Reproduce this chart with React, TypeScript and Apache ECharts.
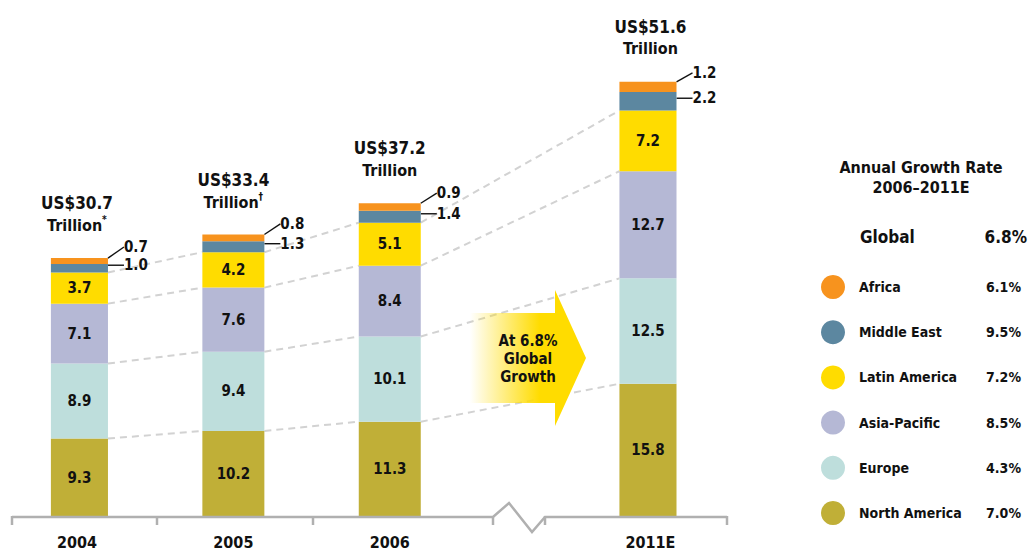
import React, { useEffect, useRef } from "react";
import * as echarts from "echarts";

// ---------- data ----------
const years = ["2004", "2005", "2006", "2011E"];
const yearSlots = [0, 3, 6, 11]; // slot positions on a 12-slot category axis (break between 2006 and 2011E)
const slotCount = 12;

const regionNames = ["North America", "Europe", "Asia-Pacific", "Latin America", "Middle East", "Africa"];
const northAmerica = [9.3, 10.2, 11.3, 15.8];
const europe = [8.9, 9.4, 10.1, 12.5];
const asiaPacific = [7.1, 7.6, 8.4, 12.7];
const latinAmerica = [3.7, 4.2, 5.1, 7.2];
const middleEast = [1.0, 1.3, 1.4, 2.2];
const africa = [0.7, 0.8, 0.9, 1.2];
const regionValues = [northAmerica, europe, asiaPacific, latinAmerica, middleEast, africa];
const regionColors = ["#C0AF37", "#BEDEDC", "#B5B8D5", "#FFDC00", "#5C87A0", "#F7931E"];

const totals = [30.7, 33.4, 37.2, 51.6];
const totalMarks = ["*", "\u2020", "", ""];

const legendOrder = ["Africa", "Middle East", "Latin America", "Asia-Pacific", "Europe", "North America"];
const legendRates = ["6.1%", "9.5%", "7.2%", "8.5%", "4.3%", "7.0%"];
const globalRate = "6.8%";

// ---------- layout ----------
const FONT = "'Liberation Sans Narrow', 'DejaVu Sans Condensed', Arial, sans-serif";
const GRID_LEFT = 50.9;
const GRID_WIDTH = 625.6;
const GRID_TOP = 11;
const GRID_BOTTOM = 33;
const BAR_WIDTH = 62;
const INK = "#111111";

function slotArray(values: (number | string)[]) {
  const arr: (number | string)[] = [];
  for (let i = 0; i < slotCount; i++) {
    const k = yearSlots.indexOf(i);
    arr.push(k >= 0 ? values[k] : "-");
  }
  return arr;
}

export default function App() {
  const ref = useRef<HTMLDivElement>(null);

  useEffect(() => {
    document.body.style.margin = "0";
    if (!ref.current) return;
    const chart = echarts.init(ref.current, undefined, { renderer: "svg" });

    const categories = Array.from({ length: slotCount }, (_, i) => String(i));
    const slotW = GRID_WIDTH / slotCount;
    const halfBar = BAR_WIDTH / 2 / slotW;

    const barSeries: any[] = regionNames.map((name, r) => {
      const small = r >= 4;
      return {
        name,
        type: "bar",
        stack: "total",
        barWidth: BAR_WIDTH,
        xAxisIndex: 0,
        data: slotArray(regionValues[r]),
        itemStyle: { color: regionColors[r] },
        silent: true,
        z: 3,
        label: small
          ? {
              show: true,
              position: "right",
              distance: 16,
              fontFamily: FONT,
              fontWeight: "bold",
              fontSize: 15,
              lineHeight: 14,
              color: INK,
              formatter: (p: any) => Number(p.value).toFixed(1),
            }
          : {
              show: true,
              position: "inside",
              fontFamily: FONT,
              fontWeight: "bold",
              fontSize: 15,
              color: INK,
              formatter: (p: any) => Number(p.value).toFixed(1),
            },
        labelLayout: small ? { dy: r === 5 ? -14 : -3 } : undefined,
        labelLine: small
          ? { show: true, lineStyle: { color: INK, width: 1.4 } }
          : undefined,
      };
    });

    // cumulative tops for the dashed connectors
    const cum: number[][] = [];
    for (let r = 0; r < 4; r++) {
      cum.push(
        years.map((_, y) => {
          let s = 0;
          for (let k = 0; k <= r; k++) s += regionValues[k][y];
          return s;
        })
      );
    }
    const dashSeries: any[] = [];
    for (let r = 0; r < 4; r++) {
      for (let g = 0; g < years.length - 1; g++) {
        dashSeries.push({
          type: "line",
          xAxisIndex: 1,
          yAxisIndex: 0,
          symbol: "none",
          silent: true,
          z: 1,
          lineStyle: { color: "#D2D2D2", width: 2, type: [7, 5] },
          data: [
            [yearSlots[g] + halfBar, cum[r][g]],
            [yearSlots[g + 1] - halfBar, cum[r][g + 1]],
          ],
        });
      }
    }

    const totalSeries = {
      type: "scatter",
      xAxisIndex: 0,
      symbolSize: 0,
      silent: true,
      itemStyle: { opacity: 1 },
      data: slotArray(totals),
      label: {
        show: true,
        position: "top",
        distance: 22,
        color: INK,
        opacity: 1,
        formatter: (p: any) => {
          const k = yearSlots.indexOf(p.dataIndex);
          const mark = totalMarks[k];
          return `{a|US$${totals[k].toFixed(1)}}\n{b|Trillion}` + (mark ? `{s|${mark}}` : "");
        },
        rich: {
          a: { fontFamily: FONT, fontWeight: "bold", fontSize: 17, lineHeight: 22, color: INK },
          b: { fontFamily: FONT, fontWeight: "bold", fontSize: 16, lineHeight: 22, color: INK },
          s: { fontFamily: FONT, fontWeight: "bold", fontSize: 10, lineHeight: 12, verticalAlign: "top", color: INK },
        },
      },
    };

    // x-axis line with break (decorative)
    const axisY = 517;
    const axisColor = "#B0B0B0";
    const tickXs = [12, 157, 313, 493, 545, 727];
    const axisGraphics: any[] = [
      {
        type: "polyline",
        silent: true,
        z: 5,
        shape: {
          points: [
            [12, axisY],
            [493, axisY],
            [509, 503],
            [532, 532],
            [545, axisY],
            [727, axisY],
          ],
        },
        style: { stroke: axisColor, lineWidth: 2.5, fill: null },
      },
      ...tickXs.map((x) => ({
        type: "line",
        silent: true,
        z: 5,
        shape: { x1: x, y1: axisY - 1, x2: x, y2: axisY + 8 },
        style: { stroke: axisColor, lineWidth: 2.5 },
      })),
    ];

    const arrow = {
      type: "polygon",
      silent: true,
      z: 10,
      shape: {
        points: [
          [470, 313],
          [555, 313],
          [555, 290],
          [586, 358],
          [555, 426],
          [555, 403],
          [470, 403],
        ],
      },
      style: {
        fill: new echarts.graphic.LinearGradient(0, 0, 1, 0, [
          { offset: 0, color: "rgba(255,220,0,0)" },
          { offset: 0.6, color: "rgba(255,220,0,1)" },
          { offset: 1, color: "rgba(255,220,0,1)" },
        ]),
      },
    };
    const arrowText = {
      type: "text",
      silent: true,
      z: 11,
      x: 528,
      y: 359,
      style: {
        text: `At ${globalRate}\nGlobal\nGrowth`,
        fontFamily: FONT,
        fontWeight: "bold",
        fontSize: 15,
        lineHeight: 18,
        fill: INK,
        align: "center",
        verticalAlign: "middle",
      },
    };

    const headerText = {
      type: "text",
      silent: true,
      x: 921,
      y: 177,
      style: {
        text: "Annual Growth Rate\n2006\u20132011E",
        fontFamily: FONT,
        fontWeight: "bold",
        fontSize: 16,
        lineHeight: 20,
        fill: INK,
        align: "center",
        verticalAlign: "middle",
      },
    };
    const globalLabel = {
      type: "text",
      silent: true,
      x: 860,
      y: 237,
      style: {
        text: "Global",
        fontFamily: FONT,
        fontWeight: "bold",
        fontSize: 17,
        fill: INK,
        align: "left",
        verticalAlign: "middle",
      },
    };
    const globalValue = {
      type: "text",
      silent: true,
      x: 1027,
      y: 237,
      style: {
        text: globalRate,
        fontFamily: FONT,
        fontWeight: "bold",
        fontSize: 17,
        fill: INK,
        align: "right",
        verticalAlign: "middle",
      },
    };

    chart.setOption({
      animation: false,
      backgroundColor: "#ffffff",
      grid: { left: GRID_LEFT, width: GRID_WIDTH, top: GRID_TOP, bottom: GRID_BOTTOM },
      xAxis: [
        {
          type: "category",
          data: categories,
          axisLine: { show: false },
          axisTick: { show: false },
          splitLine: { show: false },
          axisLabel: {
            interval: 0,
            margin: 17,
            fontFamily: FONT,
            fontWeight: "bold",
            fontSize: 16,
            color: INK,
            formatter: (v: string) => {
              const k = yearSlots.indexOf(Number(v));
              return k >= 0 ? years[k] : "";
            },
          },
        },
        { type: "value", min: -0.5, max: slotCount - 0.5, show: false },
      ],
      yAxis: { type: "value", min: 0, max: 60, show: false },
      legend: {
        data: legendOrder,
        orient: "vertical",
        left: 816,
        top: 270,
        itemWidth: 24,
        itemHeight: 24,
        itemGap: 21.2,
        icon: "circle",
        selectedMode: false,
        formatter: (name: string) => `{n|${name}}{p|${legendRates[legendOrder.indexOf(name)]}}`,
        textStyle: {
          rich: {
            n: { fontFamily: FONT, fontWeight: "bold", fontSize: 14, color: INK, width: 126, padding: [0, 0, 0, 9] },
            p: { fontFamily: FONT, fontWeight: "bold", fontSize: 14, color: INK, width: 36, align: "right" },
          },
        },
      },
      graphic: [...axisGraphics, arrow, arrowText, headerText, globalLabel, globalValue],
      series: [...dashSeries, ...barSeries, totalSeries],
    });

    return () => chart.dispose();
  }, []);

  return <div ref={ref} style={{ width: 1031, height: 550 }} />;
}
